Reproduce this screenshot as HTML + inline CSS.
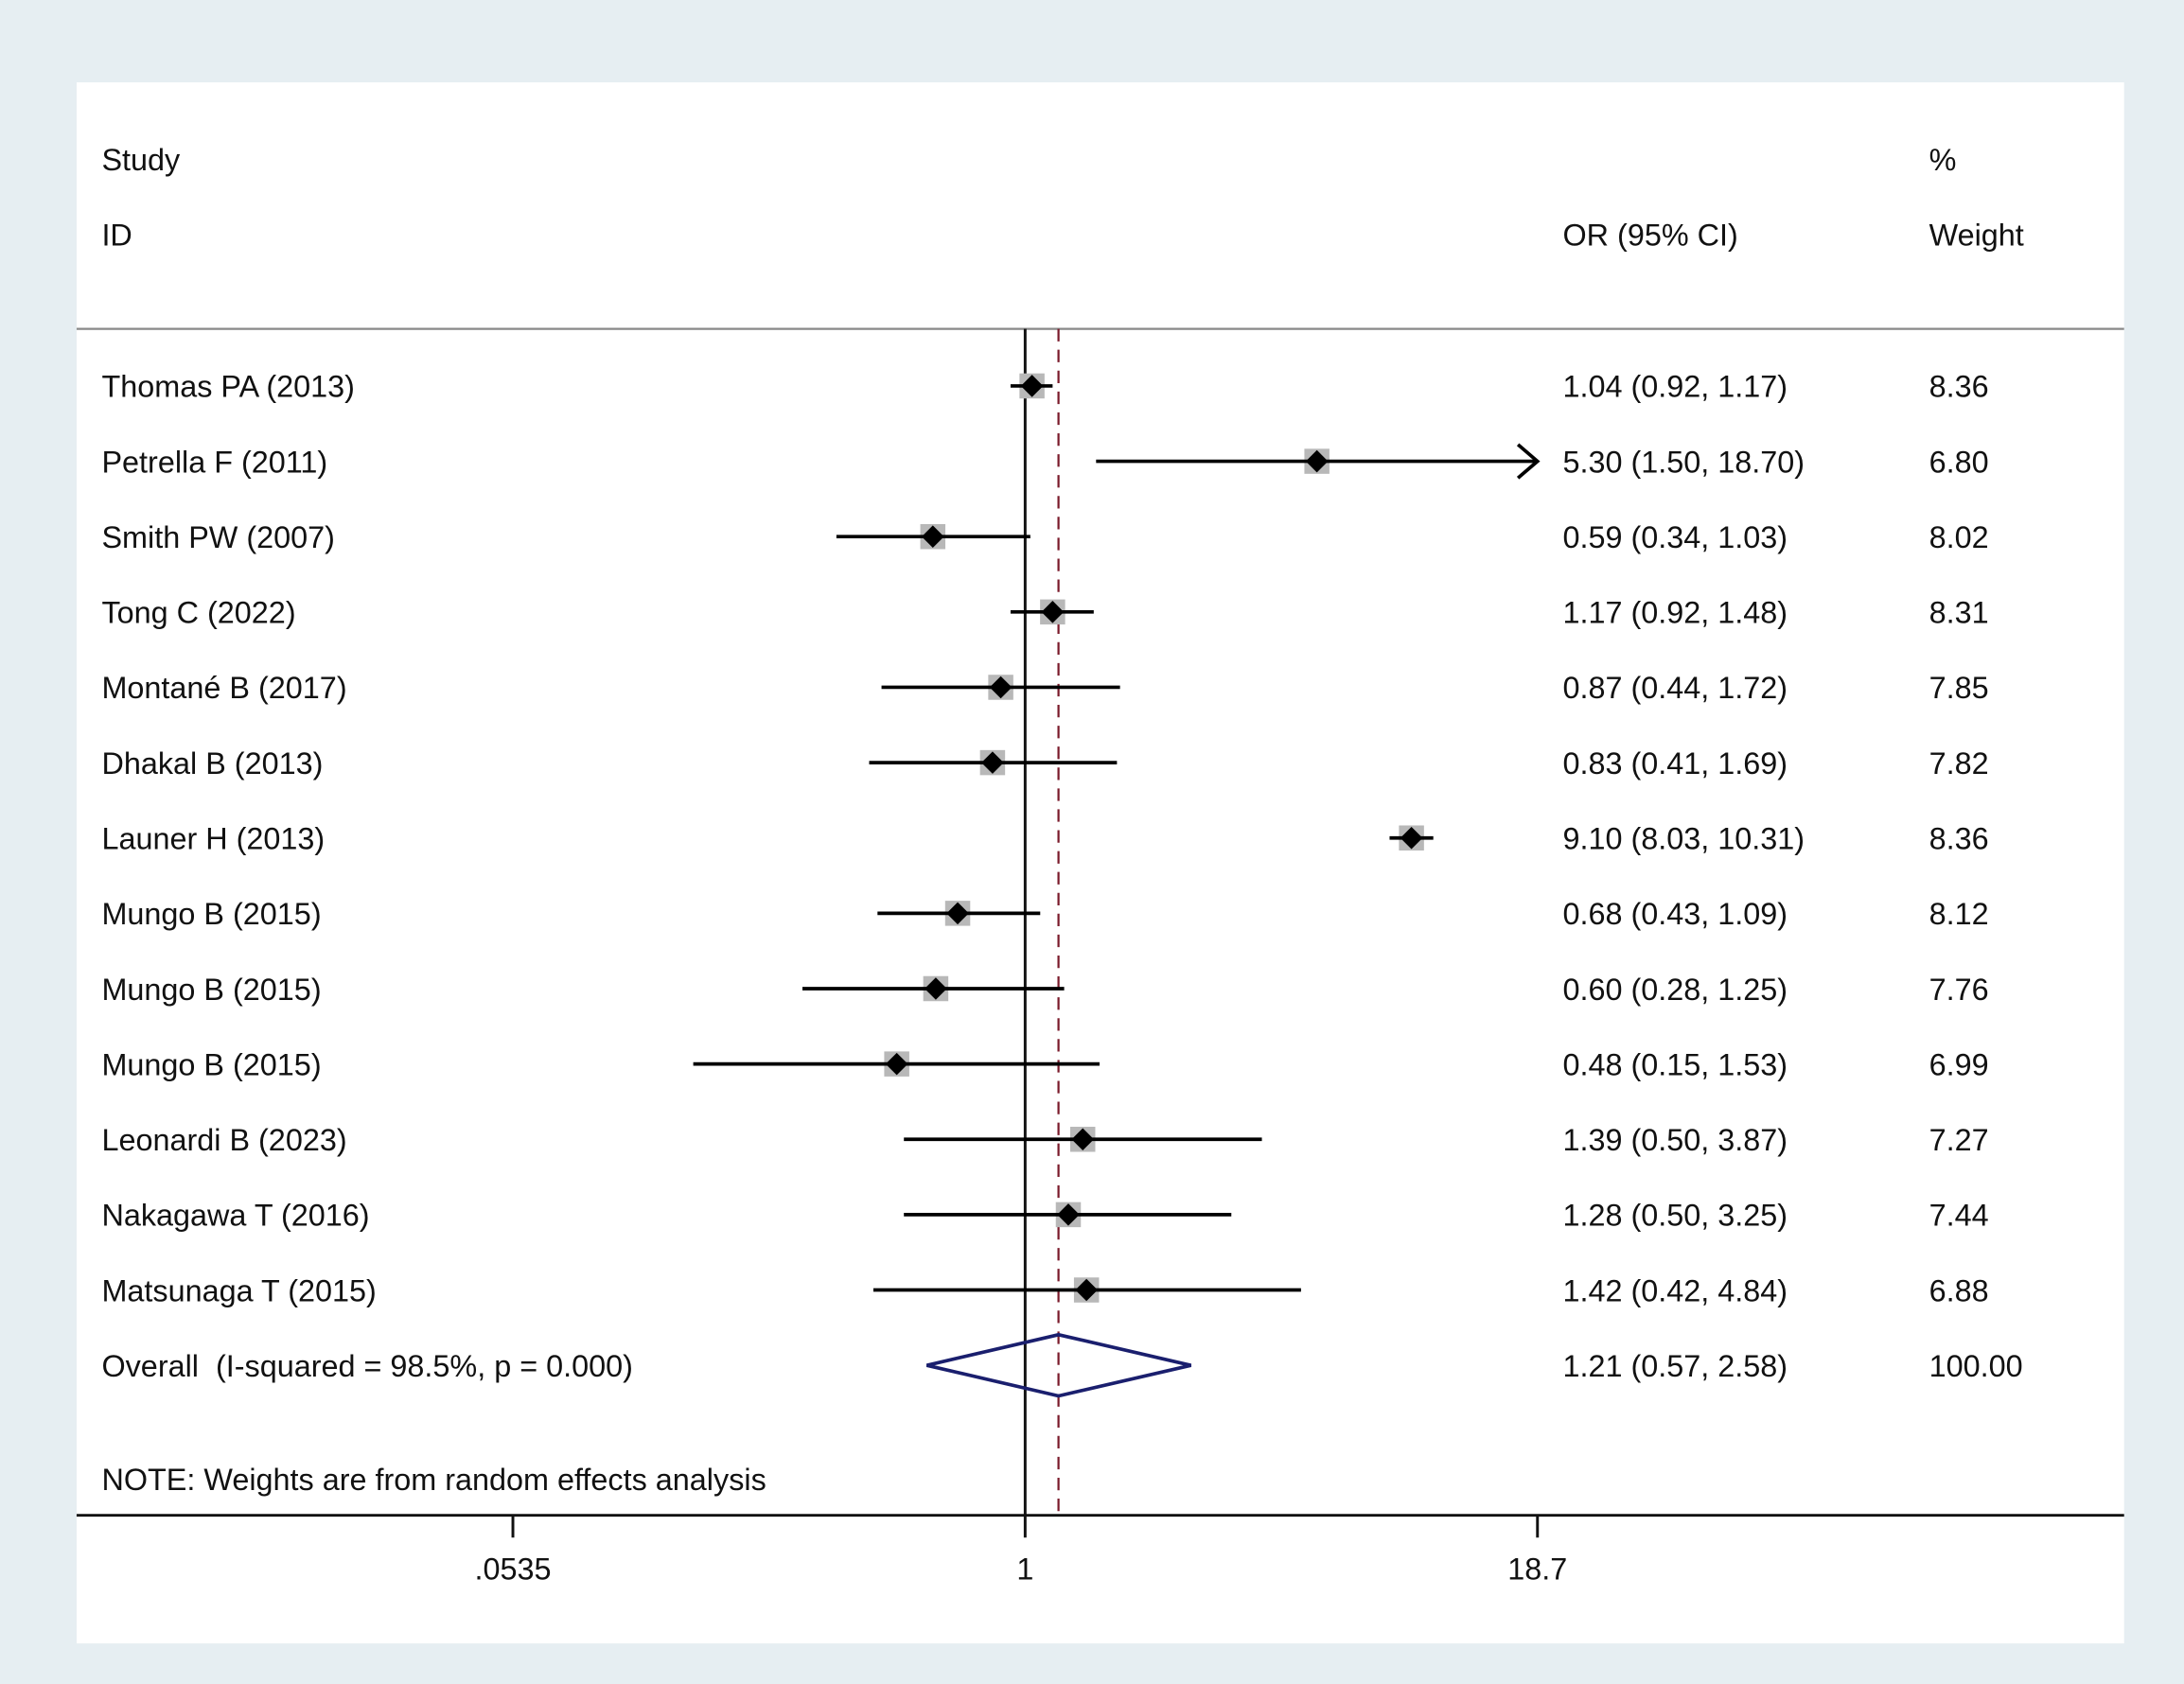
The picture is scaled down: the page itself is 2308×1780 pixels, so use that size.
<!DOCTYPE html>
<html><head><meta charset="utf-8"><style>
html,body{margin:0;padding:0;background:#e6eef2;}
svg{display:block;}
text{font-family:"Liberation Sans",Arial,sans-serif;font-size:22px;fill:#111;}
</style></head><body>
<svg id="chart" width="2308" height="1780" viewBox="0 0 1568 1209" xmlns="http://www.w3.org/2000/svg">
<rect x="0" y="0" width="1568" height="1209" fill="#e6eef2"/>
<rect x="55" y="59" width="1470" height="1121" fill="#ffffff"/>
<text x="73" y="122">Study</text>
<text x="73" y="176">ID</text>
<text x="1122" y="176">OR (95% CI)</text>
<text x="1385" y="122">%</text>
<text x="1385" y="176">Weight</text>
<line x1="55" y1="236" x2="1525" y2="236" stroke="#888" stroke-width="1.5"/>
<line x1="55" y1="1088" x2="1525" y2="1088" stroke="#111" stroke-width="2"/>
<text x="73" y="1070">NOTE: Weights are from random effects analysis</text>
<g id="marks"></g>
</svg>
<script>
const studies = ["Thomas PA (2013)","Petrella F (2011)","Smith PW (2007)","Tong C (2022)","Montané B (2017)","Dhakal B (2013)","Launer H (2013)","Mungo B (2015)","Mungo B (2015)","Mungo B (2015)","Leonardi B (2023)","Nakagawa T (2016)","Matsunaga T (2015)"];
const orValues = [1.04,5.30,0.59,1.17,0.87,0.83,9.10,0.68,0.60,0.48,1.39,1.28,1.42];
const lowerCI = [0.92,1.50,0.34,0.92,0.44,0.41,8.03,0.43,0.28,0.15,0.50,0.50,0.42];
const upperCI = [1.17,18.70,1.03,1.48,1.72,1.69,10.31,1.09,1.25,1.53,3.87,3.25,4.84];
const weights = ["8.36","6.80","8.02","8.31","7.85","7.82","8.36","8.12","7.76","6.99","7.27","7.44","6.88"];
const overall = [1.21,0.57,2.58];
const overallLabel = "Overall  (I-squared = 98.5%, p = 0.000)";
const tickValues = [0.0535,1,18.7];
const tickLabels = [".0535","1","18.7"];

const NS="http://www.w3.org/2000/svg";
const g=document.getElementById('marks');
const xScale=v=>736+Math.log(v)*125.6;
const yRow=i=>277+i*54.1;
const fmt=v=>v.toFixed(2);
function mk(tag,attrs,txt){const e=document.createElementNS(NS,tag);for(const k in attrs)e.setAttribute(k,attrs[k]);if(txt!=null)e.textContent=txt;g.appendChild(e);return e;}
const xMax=xScale(18.7);
let e=mk('line',{x1:736,y1:236,x2:736,y2:1088,stroke:'#111','stroke-width':2});


e=mk('line',{x1:xScale(overall[0]),y1:236,x2:xScale(overall[0]),y2:1088,stroke:'#7a1a2a','stroke-width':1.5,'stroke-dasharray':'9,6'});


studies.forEach((s,i)=>{
  const y=yRow(i);
  let t=mk('text',{x:73,y:y+8},s);
  
  
  const x1=xScale(lowerCI[i]);
  const x2=Math.min(xScale(upperCI[i]),xMax);
  const sq=mk('rect',{x:xScale(orValues[i])-9,y:y-9,width:18,height:18,fill:'#b8b8b8'});
  
  
  const l=mk('line',{x1:x1,y1:y,x2:x2,y2:y,stroke:'#000','stroke-width':2.5});
  
  
  if(xScale(upperCI[i])>=xMax-0.5){
    const a=mk('polyline',{points:`${xMax-14},${y-12} ${xMax},${y} ${xMax-14},${y+12}`,fill:'none',stroke:'#000','stroke-width':2.5});
    
    
  }
  const cx=xScale(orValues[i]);
  const d=mk('polygon',{points:`${cx-8},${y} ${cx},${y-8} ${cx+8},${y} ${cx},${y+8}`,fill:'#000'});
  
  
  t=mk('text',{x:1122,y:y+8},`${fmt(orValues[i])} (${fmt(lowerCI[i])}, ${fmt(upperCI[i])})`);
  
  
  t=mk('text',{x:1385,y:y+8},weights[i]);
  
  
});
const yo=yRow(studies.length);
let t=mk('text',{x:73,y:yo+8,style:'white-space:pre'},overallLabel);


const dm=mk('polygon',{points:`${xScale(overall[1])},${yo} ${xScale(overall[0])},${yo-22} ${xScale(overall[2])},${yo} ${xScale(overall[0])},${yo+22}`,fill:'none',stroke:'#1a1f6e','stroke-width':2.5});


t=mk('text',{x:1122,y:yo+8},`${fmt(overall[0])} (${fmt(overall[1])}, ${fmt(overall[2])})`);


t=mk('text',{x:1385,y:yo+8},"100.00");


tickValues.forEach((v,i)=>{
  const x=xScale(v);
  const tk=mk('line',{x1:x,y1:1088,x2:x,y2:1104,stroke:'#111','stroke-width':2});
  
  
  const tl=mk('text',{x:x,y:1134,'text-anchor':'middle'},tickLabels[i]);
  
  
});
</script>
</body></html>
